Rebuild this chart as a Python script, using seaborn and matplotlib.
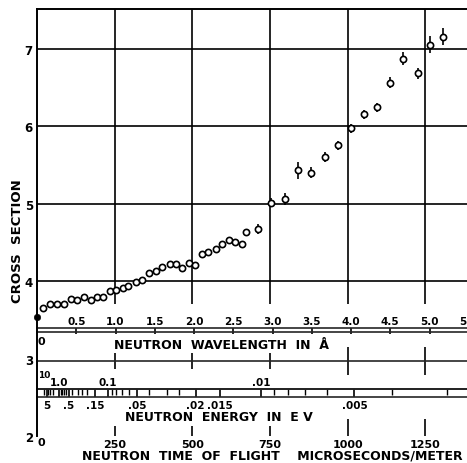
import numpy as np
import matplotlib
matplotlib.use("Agg")
import matplotlib.pyplot as plt
import seaborn as sns

# ── data ────────────────────────────────────────────────
wavelength = [0.08, 0.17, 0.25, 0.35, 0.43, 0.51, 0.60, 0.69, 0.77, 0.84,
              0.93, 1.01, 1.09, 1.16, 1.26, 1.34, 1.43, 1.52, 1.59, 1.69,
              1.77, 1.85, 1.94, 2.01, 2.10, 2.18, 2.28, 2.36, 2.45, 2.52,
              2.61, 2.66, 2.82, 2.98, 3.16, 3.32, 3.49, 3.67, 3.84, 4.00,
              4.17, 4.33, 4.50, 4.66, 4.85, 5.01, 5.17]
cross_section = [3.65, 3.70, 3.70, 3.70, 3.77, 3.75, 3.79, 3.75, 3.80, 3.80,
                 3.87, 3.88, 3.91, 3.93, 3.99, 4.01, 4.10, 4.13, 4.18, 4.22,
                 4.22, 4.17, 4.23, 4.21, 4.35, 4.37, 4.41, 4.48, 4.53, 4.50,
                 4.48, 4.63, 4.67, 5.01, 5.06, 5.43, 5.40, 5.60, 5.75, 5.97,
                 6.15, 6.24, 6.56, 6.87, 6.68, 7.05, 7.15]
errors = [0.02] * 26 + [0.04] * 6 + [0.06, 0.06, 0.08, 0.11, 0.07, 0.07, 0.06,
                                     0.06, 0.06, 0.06, 0.07, 0.08, 0.07, 0.11, 0.11]

# filled point at zero wavelength
zero_wavelength = [0.0]
zero_cross_section = [3.54]

y_ticks = [2, 3, 4, 5, 6, 7]
y_grid = [4, 5, 6, 7]
wl_ticks = [0.5, 1.0, 1.5, 2.0, 2.5, 3.0, 3.5, 4.0, 4.5, 5.0, 5.5]
wl_labels = ["0.5", "1.0", "1.5", "2.0", "2.5", "3.0", "3.5", "4.0", "4.5", "5.0", "5.5"]
tof_minor = [250, 500, 750]
tof_major = [1000, 1250]
tof_grid = tof_minor + tof_major
energy_far = [10]
energy_far_labels = ["10"]
energy_top = [1.0, 0.1, 0.01]
energy_top_labels = ["1.0", "0.1", ".01"]
energy_bottom = [5, 0.5, 0.15, 0.05, 0.02, 0.015, 0.005]
energy_bottom_labels = ["5", ".5", ".15", ".05", ".02", ".015", ".005"]
energy_minor = [10, 4, 3, 2, 0.9, 0.8, 0.7, 0.6, 0.4, 0.3, 0.25, 0.2,
                0.09, 0.08, 0.07, 0.06, 0.04, 0.03, 0.025,
                0.009, 0.008, 0.007, 0.006, 0.004, 0.003]

# ── unit conversions ────────────────────────────────────
TOF_PER_A = 252.8      # microseconds/meter per angstrom
E_CONST = 0.0818       # eV * A^2


def to_tof(lam):
    return np.asarray(lam) * TOF_PER_A


def from_tof(t):
    return np.asarray(t) / TOF_PER_A


def to_energy(lam):
    return E_CONST / np.maximum(np.asarray(lam, dtype=float), 1e-3) ** 2


def from_energy(e):
    return np.sqrt(E_CONST / np.maximum(np.asarray(e, dtype=float), 1e-12))


# ── figure / layout (pixels) ───────────────────────────
sns.set_theme(style="white")
plt.rcParams["font.family"] = ["DejaVu Sans"]
plt.rcParams["font.weight"] = "bold"
plt.rcParams["text.color"] = "black"

W, H = 467, 464
TOP, BOT, LEFT = 10, 437, 37
X_MAX = 5.7
PX_PER_A = 78.5
Y_MIN, Y_MAX = 2.0, 7.51

fig = plt.figure(figsize=(W / 100, H / 100), dpi=100)
ax = fig.add_axes([LEFT / W, 1 - BOT / H, X_MAX * PX_PER_A / W, (BOT - TOP) / H])
ax.set_xlim(0, X_MAX)
ax.set_ylim(Y_MIN, Y_MAX)


def frac(ypx):
    return (BOT - ypx) / (BOT - TOP)


LW = 1.2
for s in ["right", "bottom"]:
    ax.spines[s].set_visible(False)
for s in ["left", "top"]:
    ax.spines[s].set_color("black")
    ax.spines[s].set_linewidth(1.4)

ax.set_xticks([])
ax.set_yticks(y_ticks)
ax.tick_params(axis="y", length=0, pad=3, labelsize=8.5, labelcolor="black")

# grid
ax.hlines(y_grid, 0, X_MAX, colors="black", linewidth=LW, zorder=1)
ax.vlines(from_tof(tof_grid), 3.70, Y_MAX, colors="black", linewidth=LW, zorder=1)

# data
ax.errorbar(wavelength, cross_section, yerr=errors, fmt="none",
            ecolor="black", elinewidth=1.2, capsize=0, zorder=2)
sns.scatterplot(x=wavelength, y=cross_section, ax=ax, marker="o", s=20,
                facecolor="white", edgecolor="black", linewidth=1.2, zorder=3)
sns.scatterplot(x=zero_wavelength, y=zero_cross_section, ax=ax, marker="o", s=22,
                color="black", edgecolor="black", zorder=3, clip_on=False)

# wavelength scale (labels above the line)
wl_ax = ax.secondary_xaxis(frac(329))
wl_ax.set_alignment("top")
wl_ax.set_xticks(wl_ticks, wl_labels)
wl_ax.tick_params(direction="in", length=4, width=LW, pad=1.5, labelsize=7.5,
                  color="black", labelcolor="black")
wl_ax.spines["top"].set_linewidth(LW)
wl_ax2 = ax.secondary_xaxis(frac(333))
wl_ax2.set_xticks([])
wl_ax2.spines["bottom"].set_linewidth(LW)

# line at cross section 3 with time-of-flight marks
mid_ax = ax.secondary_xaxis(frac(362), functions=(to_tof, from_tof))
mid_ax.set_xticks(tof_major, ["", ""])
mid_ax.set_xticks(tof_minor, ["", "", ""], minor=True)
mid_ax.tick_params(which="major", direction="inout", length=20, width=LW, color="black")
mid_ax.tick_params(which="minor", direction="inout", length=12, width=LW, color="black")
mid_ax.spines["bottom"].set_linewidth(LW)

# energy scale
e_far = ax.secondary_xaxis(frac(390), functions=(to_energy, from_energy))
e_far.set_alignment("top")
e_far.set_xticks(energy_far, energy_far_labels)
e_far.tick_params(direction="in", length=0, pad=7, labelsize=6.5,
                  color="black", labelcolor="black")

e_top = ax.secondary_xaxis(frac(390), functions=(to_energy, from_energy))
e_top.set_alignment("top")
e_top.set_xticks(energy_top, energy_top_labels)
e_top.set_xticks([], minor=True)
e_top.tick_params(direction="in", length=6, width=LW, pad=1.5, labelsize=7.5,
                  color="black", labelcolor="black")
e_top.spines["top"].set_linewidth(LW)

e_bot = ax.secondary_xaxis(frac(390), functions=(to_energy, from_energy))
e_bot.set_xticks(energy_bottom, energy_bottom_labels)
e_bot.set_xticks(energy_minor, minor=True)
e_bot.tick_params(which="major", direction="out", length=6, width=LW, pad=2,
                  labelsize=7.5, color="black", labelcolor="black")
e_bot.tick_params(which="minor", direction="out", length=4, width=1.0, color="black")
e_bot.spines["bottom"].set_linewidth(LW)
e_ax2 = ax.secondary_xaxis(frac(398))
e_ax2.set_xticks([])
e_ax2.spines["bottom"].set_linewidth(LW)

# time of flight scale (bottom)
tof_ax = ax.secondary_xaxis(0, functions=(to_tof, from_tof))
tof_ax.set_xticks(tof_major, [str(t) for t in tof_major])
tof_ax.set_xticks(tof_minor, [str(t) for t in tof_minor], minor=True)
for which, ln in [("major", 12), ("minor", 7)]:
    tof_ax.tick_params(which=which, direction="in", length=ln, width=LW, pad=2,
                       labelsize=8, color="black", labelcolor="black")
for s in ["top", "bottom"]:
    tof_ax.spines[s].set_visible(False)

# zero labels just right of the left spine
for ypx in [342, 443]:
    fig.text((LEFT + 0.5) / W, 1 - ypx / H, "0", ha="left", va="center",
             fontsize=8, color="black")

# axis titles
fig.text(222 / W, 1 - 345.5 / H, "NEUTRON  WAVELENGTH  IN  Å", ha="center",
         va="center", fontsize=9, color="black")
fig.text(219 / W, 1 - 418 / H, "NEUTRON  ENERGY  IN  E V", ha="center",
         va="center", fontsize=9, color="black")
fig.text(272 / W, 1 - 456 / H, "NEUTRON  TIME  OF  FLIGHT    MICROSECONDS/METER",
         ha="center", va="center", fontsize=9, color="black")
fig.text(18 / W, 1 - 241 / H, "CROSS  SECTION", rotation=90, ha="center",
         va="center", fontsize=9.5, color="black")

fig.savefig("out.png", dpi=100)
